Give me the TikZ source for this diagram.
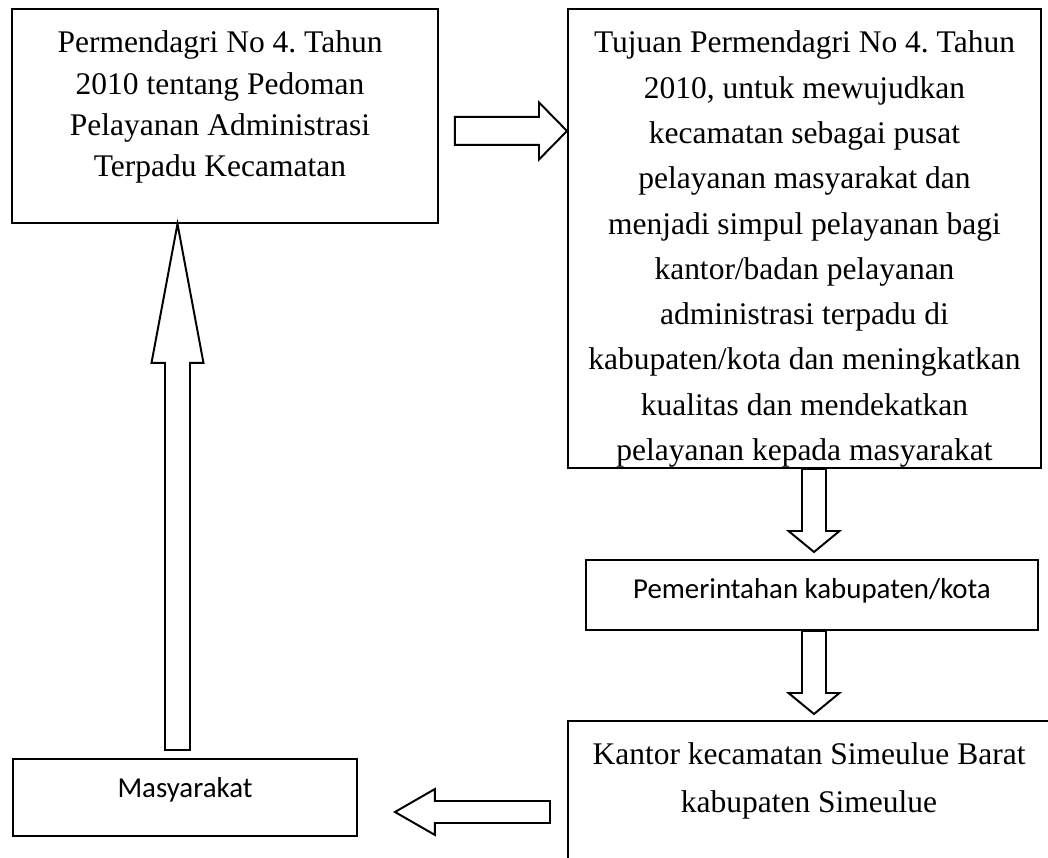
\documentclass[tikz,border=0pt]{standalone}
\usepackage{fontspec}
\setmainfont{Liberation Serif}
\newfontfamily\calibri{Carlito}
\usepackage{tikz}
\usetikzlibrary{calc}
\frenchspacing
\newlength\pxu
\setlength\pxu{0.381pt}
\tikzset{
  box/.style={rectangle, draw=black, line width=0.75pt, inner sep=0pt, anchor=north west},
  seriftext/.style={align=center, inner sep=0pt, font=\fontsize{12pt}{17.26pt}\selectfont},
  sanstext/.style={inner sep=0pt, font=\calibri\fontsize{11pt}{13pt}\selectfont},
  blockarr/.style={draw=black, line width=0.75pt, fill=white, line join=miter},
}
% hollow block arrow from #1 to #2: half shaft #3, half head #4, head length #5
\newcommand\blockarrow[5]{%
  \draw[blockarr] let \p1=(#1), \p2=(#2),
      \n1={atan2(\y2-\y1,\x2-\x1)}, \n2={veclen(\x2-\x1,\y2-\y1)} in
    [shift={(\p1)}, rotate=\n1]
    (0pt,{#3*\pxu}) -- ({(\n2)*1pt-#5*\pxu},{#3*\pxu}) -- ({(\n2)*1pt-#5*\pxu},{#4*\pxu})
    -- ({(\n2)*1pt},0pt) -- ({(\n2)*1pt-#5*\pxu},{-#4*\pxu}) -- ({(\n2)*1pt-#5*\pxu},{-#3*\pxu})
    -- (0pt,{-#3*\pxu}) -- cycle;}

\begin{document}
\begin{tikzpicture}[x=0.381pt, y=-0.381pt]
  \useasboundingbox (0,0) rectangle (1048,858);

  % ---- boxes ----
  \node[box, minimum width=426*\pxu, minimum height=214*\pxu] (perm) at (11,8) {};
  \node[box, minimum width=473*\pxu, minimum height=459*\pxu] (tujuan) at (567,8) {};
  \node[box, minimum width=452*\pxu, minimum height=70*\pxu] (pem) at (585,559) {};
  \node[box, minimum width=485*\pxu, minimum height=142*\pxu] (kantor) at (567,720) {};
  \node[box, minimum width=344*\pxu, minimum height=77*\pxu] (masy) at (12,758) {};

  % ---- texts ----
  \node[seriftext, anchor=north, font=\fontsize{12pt}{15.75pt}\selectfont] (perm-txt)
    at ($(perm.north)+(-5,22.5)$)
    {Permendagri No 4. Tahun\\2010 tentang Pedoman\\Pelayanan Administrasi\\Terpadu Kecamatan};
  \node[seriftext, anchor=north] (tujuan-txt) at ($(tujuan.north)+(0,22.5)$)
    {Tujuan Permendagri No 4. Tahun\\2010, untuk mewujudkan\\kecamatan sebagai pusat\\pelayanan masyarakat dan\\menjadi simpul pelayanan bagi\\kantor/badan pelayanan\\administrasi terpadu di\\kabupaten/kota dan meningkatkan\\kualitas dan mendekatkan\\pelayanan kepada masyarakat};
  \node[sanstext, anchor=base] (pem-txt) at ($(pem.north)+(0,39)$) {Pemerintahan kabupaten/kota};
  \node[seriftext, anchor=north, font=\fontsize{12pt}{18.2pt}\selectfont] (kantor-txt)
    at ($(kantor.north)+(-1.5,22.5)$) {Kantor kecamatan Simeulue Barat\\kabupaten Simeulue};
  \node[sanstext, anchor=base] (masy-txt) at ($(masy.north)+(0,39)$) {Masyarakat};

  % ---- block arrows ----
  \coordinate (ra1) at ($(perm.east)+(16,15)$);
  \coordinate (ra2) at (ra1 -| tujuan.west);
  \blockarrow{ra1}{ra2}{14}{28.5}{28}

  \coordinate (da1) at ($(tujuan.south)+(9.5,0)$);
  \coordinate (da2) at ($(da1 |- pem.north)+(0,-7)$);
  \blockarrow{da1}{da2}{12}{25.5}{21}

  \coordinate (db1) at (da1 |- pem.south);
  \coordinate (db2) at ($(db1 |- kantor.north)+(0,-6)$);
  \blockarrow{db1}{db2}{12}{25.5}{21}

  \coordinate (la1) at ($(kantor.west)+(-17,20)$);
  \coordinate (la2) at ($(masy.east |- la1)+(37,0)$);
  \blockarrow{la1}{la2}{11}{23}{40}

  \coordinate (ua1) at ($(masy.north)+(-7.5,-8)$);
  \coordinate (ua2) at (ua1 |- perm.south);
  \blockarrow{ua1}{ua2}{12.5}{26}{139}
\end{tikzpicture}
\end{document}
